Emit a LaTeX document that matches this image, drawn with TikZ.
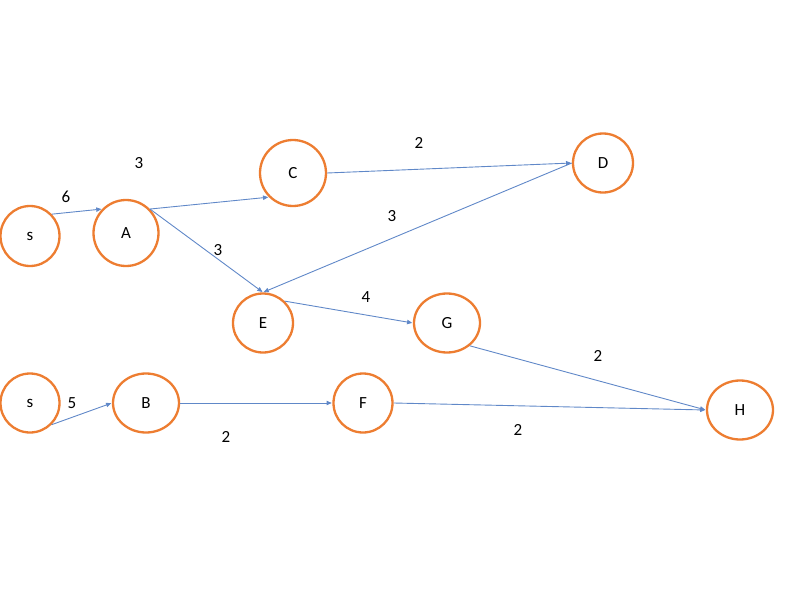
\documentclass[tikz,border=0pt]{standalone}
\usepackage{fontspec}
\setmainfont{Carlito}
\usepackage{tikz}
\usetikzlibrary{arrows.meta,shapes.geometric}
\definecolor{ringorange}{RGB}{237,125,49}
\definecolor{edgeblue}{RGB}{96,136,200}
\tikzset{
  vert/.style={ellipse,draw=ringorange,line width=1.15pt,fill=white,inner sep=0pt,font=\fontsize{8.5}{10}\selectfont},
  flow/.style={-{Triangle[length=2.6pt,width=2.2pt]},line width=0.45pt,draw=edgeblue,shorten >=0.3pt},
  weight/.style={inner sep=0pt,font=\fontsize{8.5}{10}\selectfont}
}
\begin{document}
\begin{tikzpicture}[x=0.5pt,y=-0.5pt]
  \useasboundingbox (0,0) rectangle (800,600);
  \node[vert,minimum width=29.5pt,minimum height=30pt] (s1) at (30,236) {s};
  \node[vert,minimum width=32.5pt,minimum height=33pt] (a) at (126,233) {A};
  \node[vert,minimum width=33pt,minimum height=33pt] (c) at (293,173) {C};
  \node[vert,minimum width=30pt,minimum height=29.5pt] (d) at (603,163) {D};
  \node[vert,minimum width=30pt,minimum height=29.5pt] (e) at (263,323) {E};
  \node[vert,minimum width=33pt,minimum height=29.5pt] (g) at (447,323) {G};
  \node[vert,minimum width=29.5pt,minimum height=29.5pt] (s2) at (30,403) {s};
  \node[vert,minimum width=33pt,minimum height=29.5pt] (b) at (146,403) {B};
  \node[vert,minimum width=29.5pt,minimum height=29.5pt] (f) at (363,403) {F};
  \node[vert,minimum width=33pt,minimum height=29.5pt] (h) at (740,410) {H};
  \draw[flow] (s1.45)--(a.135); \draw[flow] (a.45)--(c.225); \draw[flow] (a.45)--(e.north);
  \draw[flow] (c.east)--(d.west); \draw[flow] (d.west)--(e.north); \draw[flow] (e.45)--(g.west);
  \draw[flow] (g.-45)--(h.west); \draw[flow] (s2.-45)--(b.west); \draw[flow] (b.east)--(f.west);
  \draw[flow] (f.east)--(h.west);
  \node[weight] (w1) at (66,197) {6};
  \node[weight] (w2) at (139,163) {3};
  \node[weight] (w3) at (218,250) {3};
  \node[weight] (w4) at (419,143) {2};
  \node[weight] (w5) at (392,216) {3};
  \node[weight] (w6) at (366,297) {4};
  \node[weight] (w7) at (598,356) {2};
  \node[weight] (w8) at (72,403) {5};
  \node[weight] (w9) at (226,437) {2};
  \node[weight] (w10) at (518,430) {2};
\end{tikzpicture}
\end{document}
